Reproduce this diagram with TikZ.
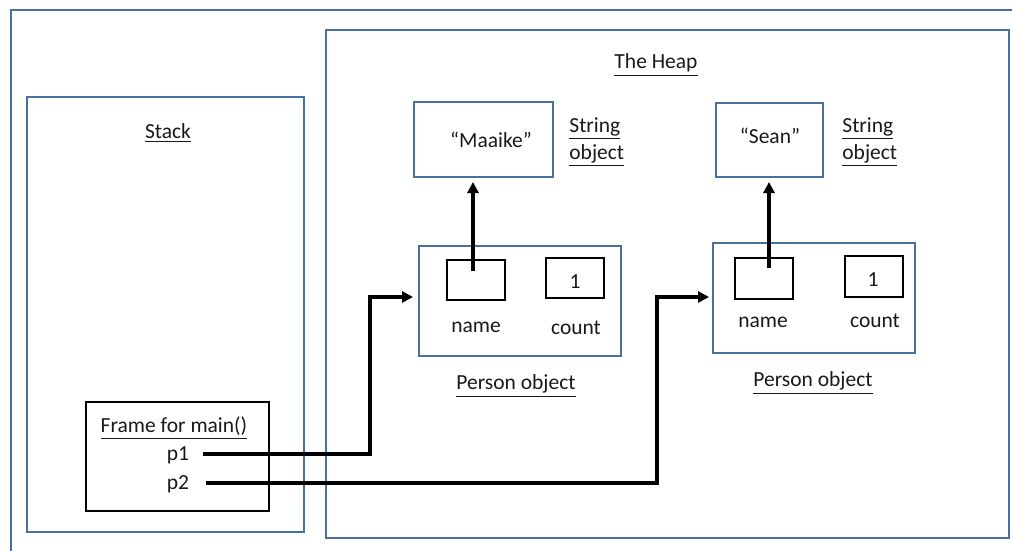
\documentclass[tikz,border=0pt]{standalone}
\usepackage{fontspec}
\setmainfont{Carlito}
\usetikzlibrary{arrows.meta}
\definecolor{frameblue}{RGB}{71,114,160}
\tikzset{
  x=0.5pt, y=-0.5pt,
  every node/.style={font=\fontsize{10.75}{13.5}\selectfont, text=black!90},
  blackbox/.style={draw=black, line width=1pt, inner sep=0pt},
  lbl/.style={inner sep=0pt},
  arr/.style={draw=black, line width=1.6pt, -{Triangle[length=5.5pt,width=5.5pt]}}
}
\begin{document}
\begin{tikzpicture}
\useasboundingbox (0,0) rectangle (1012,551);
% outer frame (cropped at right and bottom)
\node[draw=frameblue, line width=1pt, inner sep=0pt, minimum width=520pt, minimum height=290pt, anchor=north west] (outer) at (10,9) {};
% stack and heap
\node[draw=frameblue, line width=1pt, inner sep=0pt, minimum width=138.5pt, minimum height=217.5pt] (stack) at (165.5,314.5) {};
\node[draw=frameblue, line width=1pt, inner sep=0pt, minimum width=341.5pt, minimum height=254pt] (heap) at (667.5,284) {};
\node[lbl] (stacklbl) at (168,133) {\underline{Stack}};
\node[lbl] (heaplbl) at (656,65) {\underline{The Heap}};
% string objects
\node[draw=frameblue, line width=1pt, inner sep=0pt, minimum width=69.5pt, minimum height=37.5pt] (str1) at (483.5,139.5) {};
\node[lbl] (str1txt) at (491,140) {“Maaike”};
\node[draw=frameblue, line width=1pt, inner sep=0pt, minimum width=53.5pt, minimum height=37pt] (str2) at (769.5,140) {};
\node[lbl] (str2txt) at (770,136) {“Sean”};
\node[lbl, anchor=west, align=left] (str1lbl) at (569,142) {\underline{String}\\\underline{object}};
\node[lbl, anchor=west, align=left] (str2lbl) at (842,142) {\underline{String}\\\underline{object}};
% person objects
\node[draw=frameblue, line width=1pt, inner sep=0pt, minimum width=101pt, minimum height=55pt] (per1) at (520,301) {};
\node[draw=frameblue, line width=1pt, inner sep=0pt, minimum width=101pt, minimum height=55pt] (per2) at (814,298) {};
\node[blackbox, minimum width=29pt, minimum height=20pt] (nm1) at (476,280) {};
\node[blackbox, minimum width=29pt, minimum height=20pt] (ct1) at (575,278) {};
\node[lbl] (one1) at (575,282) {1};
\node[blackbox, minimum width=29pt, minimum height=20.5pt] (nm2) at (764,278.5) {};
\node[blackbox, minimum width=29pt, minimum height=20.5pt] (ct2) at (874,276.5) {};
\node[lbl] (one2) at (873,280) {1};
\node[lbl] (nmlbl1) at (476,327) {name};
\node[lbl] (ctlbl1) at (576,328) {count};
\node[lbl] (nmlbl2) at (763,322) {name};
\node[lbl] (ctlbl2) at (875,321) {count};
\node[lbl] (per1lbl) at (516,386) {\underline{Person object}};
\node[lbl] (per2lbl) at (813,383) {\underline{Person object}};
% frame for main
\node[blackbox, minimum width=91.5pt, minimum height=54.5pt] (frame) at (177.5,456.5) {};
\node[lbl] (framelbl) at (174,428) {\underline{Frame for main()}};
\node[lbl] (p1) at (178,455) {p1};
\node[lbl] (p2) at (178,484) {p2};
% connectors
\coordinate (p1s) at (203,454);
\coordinate (p2s) at (206,483);
\coordinate (n1s) at (473,271);
\coordinate (n2s) at (769,268);
\draw[arr, shorten >=2.5pt] (p1s) -| (370,297) -- (per1.west |- 0,297);
\draw[arr, shorten >=1.5pt] (p2s) -| (657,297) -- (per2.west |- 0,297);
\draw[arr, shorten >=2pt] (n1s) -- (n1s |- str1.south);
\draw[arr, shorten >=2pt] (n2s) -- (n2s |- str2.south);
\end{tikzpicture}
\end{document}
